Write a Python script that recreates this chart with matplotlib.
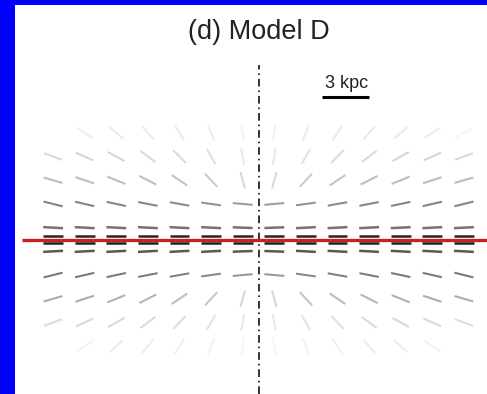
import numpy as np
import matplotlib
matplotlib.use("Agg")
import matplotlib.pyplot as plt
from matplotlib.collections import LineCollection
from matplotlib.patches import Rectangle

plt.rcParams['font.family'] = ['Liberation Sans', 'DejaVu Sans']
plt.rcParams['lines.scale_dashes'] = False

# ---------------- data ----------------
title = "(d) Model D"
scale_label = "3 kpc"
scale_bar = [4.0, 7.0]          # kpc
scale_bar_z = 9.0               # kpc

x_cols = [-13, -11, -9, -7, -5, -3, -1, 1, 3, 5, 7, 9, 11, 13]           # kpc
z_rows = [6.75, 5.25, 3.75, 2.25, 0.75, 0.25,
          -0.25, -0.75, -2.25, -3.75, -5.25, -6.75]                      # kpc

# orientation of each segment on screen (degrees from horizontal)
angles = [
    [-28, -33, -41, -49, -57, -68, -82, 82, 68, 57, 49, 41, 33, 28],
    [-20, -24, -29, -37, -46, -60, -80, 80, 60, 46, 37, 29, 24, 20],
    [-16, -18, -22, -27, -34, -47, -75, 75, 47, 34, 27, 22, 18, 16],
    [-14, -13, -12, -11, -10, -8, -5, 5, 8, 10, 11, 12, 13, 14],
    [-3, -3, -3, -3, -3, -3, -2, 2, 3, 3, 3, 3, 3, 3],
    [0, 0, 0, 0, 0, 0, 0, 0, 0, 0, 0, 0, 0, 0],
    [0, 0, 0, 0, 0, 0, 0, 0, 0, 0, 0, 0, 0, 0],
    [3, 3, 3, 3, 3, 3, 2, -2, -3, -3, -3, -3, -3, -3],
    [14, 13, 12, 11, 10, 8, 5, -5, -8, -10, -11, -12, -13, -14],
    [16, 18, 22, 27, 34, 47, 75, -75, -47, -34, -27, -22, -18, -16],
    [20, 24, 29, 37, 46, 60, 80, -80, -60, -46, -37, -29, -24, -20],
    [28, 33, 41, 49, 57, 68, 82, -82, -68, -57, -49, -41, -33, -28],
]

# grey level of each segment (0 = black, 1 = white / not visible)
greys = [
    [1.00, 0.93, 0.92, 0.92, 0.92, 0.93, 0.95, 0.95, 0.93, 0.92, 0.92, 0.92, 0.93, 0.96],
    [0.85, 0.84, 0.84, 0.85, 0.86, 0.88, 0.91, 0.91, 0.88, 0.86, 0.85, 0.84, 0.84, 0.85],
    [0.74, 0.74, 0.74, 0.75, 0.77, 0.80, 0.85, 0.85, 0.80, 0.77, 0.75, 0.74, 0.74, 0.74],
    [0.52, 0.52, 0.52, 0.53, 0.55, 0.58, 0.62, 0.62, 0.58, 0.55, 0.53, 0.52, 0.52, 0.52],
    [0.45, 0.45, 0.45, 0.45, 0.45, 0.45, 0.45, 0.45, 0.45, 0.45, 0.45, 0.45, 0.45, 0.45],
    [0.15, 0.15, 0.15, 0.15, 0.15, 0.15, 0.15, 0.15, 0.15, 0.15, 0.15, 0.15, 0.15, 0.15],
    [0.12, 0.12, 0.12, 0.12, 0.12, 0.12, 0.12, 0.12, 0.12, 0.12, 0.12, 0.12, 0.12, 0.12],
    [0.35, 0.35, 0.35, 0.35, 0.35, 0.35, 0.35, 0.35, 0.35, 0.35, 0.35, 0.35, 0.35, 0.35],
    [0.48, 0.48, 0.48, 0.49, 0.51, 0.54, 0.60, 0.60, 0.54, 0.51, 0.49, 0.48, 0.48, 0.48],
    [0.68, 0.68, 0.69, 0.71, 0.74, 0.78, 0.84, 0.84, 0.78, 0.74, 0.71, 0.69, 0.68, 0.68],
    [0.86, 0.85, 0.85, 0.86, 0.87, 0.89, 0.91, 0.91, 0.89, 0.87, 0.86, 0.85, 0.85, 0.87],
    [1.00, 0.94, 0.93, 0.93, 0.94, 0.95, 0.96, 0.96, 0.95, 0.94, 0.93, 0.93, 0.95, 1.00],
]

# ---------------- layout ----------------
W, H = 487, 394
PX = 15.8          # pixels per kpc
X0, Z0 = 258.5, 239.5   # pixel position of (0, 0)

fig = plt.figure(figsize=(W / 100, H / 100), dpi=100)
fig.patch.set_facecolor('white')
ax = fig.add_axes([0, 0, 1, 1])
ax.set_xlim(-X0 / PX, (W - X0) / PX)
ax.set_ylim(-(H - Z0) / PX, Z0 / PX)
ax.axis('off')

# segment half-lengths (horizontal / vertical), kpc
hx, hz = 0.63, 0.53

segs, cols, lws = [], [], []
for i, z in enumerate(z_rows):
    for j, x in enumerate(x_cols):
        g = greys[i][j]
        if g >= 1.0:
            continue
        phi = np.radians(angles[i][j])
        c, s = np.cos(phi), np.sin(phi)
        r = 1.0 / np.sqrt((c / hx) ** 2 + (s / hz) ** 2)
        dx, dz = r * c, r * s
        segs.append([(x - dx, z - dz), (x + dx, z + dz)])
        cols.append((g, g, g))
        lws.append(1.8 if abs(z) < 1 else 1.5)

ax.add_collection(LineCollection(segs, colors=cols, linewidths=lws,
                                 capstyle='butt', zorder=2))

# vertical dash-dot axis
ax.plot([0, 0], [-(H - Z0) / PX, (Z0 - 65) / PX], color='#333333', lw=1.4,
        dashes=(5.5, 2.8, 1.2, 2.8), zorder=3)

# red midplane line
ax.plot([(22 - X0) / PX, (W - X0) / PX], [0, 0], color='#cc2020', lw=2.4,
        solid_capstyle='butt', zorder=4)

# scale bar
ax.plot(scale_bar, [scale_bar_z, scale_bar_z], color='black', lw=2.2,
        solid_capstyle='butt', zorder=4)
ax.text((scale_bar[0] + scale_bar[1]) / 2 + 0.1, (Z0 - 88) / PX, scale_label,
        ha='center', va='baseline', fontsize=13, color='#222222')

# title
ax.text(0, (Z0 - 39) / PX, title, ha='center', va='baseline',
        fontsize=19.5, color='#222222')

# blue frame (left and top)
fig.add_artist(Rectangle((0, 0), 15 / W, 1, transform=fig.transFigure,
                         facecolor='#0000fe', edgecolor='none', zorder=10))
fig.add_artist(Rectangle((0, 1 - 5 / H), 1, 5 / H, transform=fig.transFigure,
                         facecolor='#0000fe', edgecolor='none', zorder=10))

fig.savefig('out.png', dpi=100, facecolor='white')
